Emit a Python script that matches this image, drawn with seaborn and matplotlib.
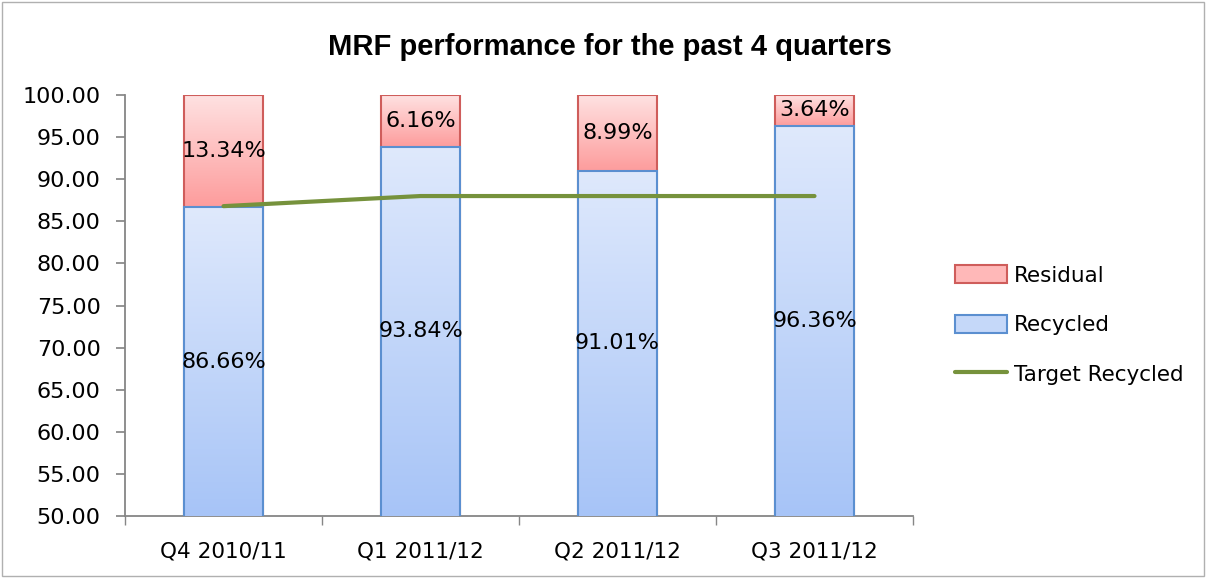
import numpy as np
import pandas as pd
import matplotlib
matplotlib.use("Agg")
import matplotlib.pyplot as plt
import seaborn as sns
from matplotlib.colors import LinearSegmentedColormap
from matplotlib.patches import Patch, Rectangle
from matplotlib.lines import Line2D

quarters = ["Q4 2010/11", "Q1 2011/12", "Q2 2011/12", "Q3 2011/12"]
recycled = [86.66, 93.84, 91.01, 96.36]
residual = [13.34, 6.16, 8.99, 3.64]
target = [86.8, 88.0, 88.0, 88.0]
yticks = [50, 55, 60, 65, 70, 75, 80, 85, 90, 95, 100]

df = pd.DataFrame({"quarter": quarters, "recycled": recycled,
                   "residual": residual, "target": target})
df["total"] = df["recycled"] + df["residual"]

sns.set_theme(style="white")
plt.rcParams["font.family"] = ["DejaVu Sans"]
plt.rcParams["text.color"] = "black"

fig = plt.figure(figsize=(12.06, 5.78), dpi=100)
ax = fig.add_axes([125/1206, 1-516/578, (913-125)/1206, (516-95)/578])

YMIN, YMAX = 50, 100
red_edge = "#cf5d5b"
blue_edge = "#5b8fd0"

sns.barplot(data=df, x="quarter", y="total", color="#ffb0b0", width=0.4,
            edgecolor=red_edge, linewidth=1.5, ax=ax, zorder=2, saturation=1)
n = len(quarters)
sns.barplot(data=df, x="quarter", y="recycled", color="#c5d8f9", width=0.4,
            edgecolor=blue_edge, linewidth=1.5, ax=ax, zorder=3, saturation=1)

ax.set_ylim(YMIN, YMAX)
ax.set_xlim(-0.5, n - 0.5)

red_cmap = LinearSegmentedColormap.from_list("r", ["#ffe2e2", "#fd9c9c"])
blue_cmap = LinearSegmentedColormap.from_list("b", ["#dfe9fc", "#a7c4f7"])
grad = np.linspace(0, 1, 256).reshape(-1, 1)
patches = list(ax.patches)
for i, p in enumerate(patches):
    x0, w = p.get_x(), p.get_width()
    top = p.get_y() + p.get_height()
    if i < n:
        cmap, bottom = red_cmap, recycled[i]
    else:
        cmap, bottom = blue_cmap, YMIN
    p.set_facecolor("none")
    im = ax.imshow(grad, cmap=cmap, aspect="auto",
                   extent=[x0, x0 + w, bottom, top], origin="upper",
                   zorder=p.get_zorder() - 0.1 + (0.05 if i >= n else 0))
    im.set_clip_path(p)
    if i >= n:
        p.set_zorder(3.5)

ax.set_ylim(YMIN, YMAX)
ax.set_xlim(-0.5, n - 0.5)

# target line
ax.plot(range(n), target, color="#76923c", linewidth=3, zorder=5)

# labels
for i in range(n):
    ax.text(i, recycled[i] + residual[i] / 2, f"{residual[i]:.2f}%",
            ha="center", va="center", fontsize=16, color="black", zorder=6)
    ax.text(i, (YMIN + recycled[i]) / 2, f"{recycled[i]:.2f}%",
            ha="center", va="center", fontsize=16, color="black", zorder=6)

ax.set_yticks(yticks)
ax.set_yticklabels([f"{v:.2f}" for v in yticks], fontsize=16, color="black")
ax.set_xticks(range(n))
ax.set_xticklabels(quarters, fontsize=15.5, color="black")
ax.set_xticks(np.arange(-0.5, n), minor=True)
ax.tick_params(axis="x", which="major", length=0, pad=18)
ax.tick_params(axis="x", which="minor", length=6.5, color="#868686", direction="out", bottom=True)
ax.tick_params(axis="y", length=6.5, color="#868686", direction="out", left=True, pad=11)
ax.set_xlabel("")
ax.set_ylabel("")
for s in ["top", "right"]:
    ax.spines[s].set_visible(False)
for s in ["left", "bottom"]:
    ax.spines[s].set_color("#868686")
    ax.spines[s].set_linewidth(1.3)
ax.grid(False)

fig.suptitle("MRF performance for the past 4 quarters", x=610/1206, y=1-47/578,
             va="center", fontsize=21, fontweight="bold", color="black",
             fontfamily="Liberation Sans")

handles = [Patch(facecolor="#ffb8b8", edgecolor=red_edge, linewidth=1.5, label="Residual"),
           Patch(facecolor="#c5d8f9", edgecolor=blue_edge, linewidth=1.5, label="Recycled"),
           Line2D([0], [0], color="#76923c", linewidth=3, label="Target Recycled")]
fig.legend(handles=handles, loc="center left", bbox_to_anchor=(936/1206, 1-325/578),
           frameon=False, fontsize=15.5, labelspacing=1.35, handlelength=2.4,
           handleheight=0.9, handletextpad=0.3, labelcolor="black")

fig.add_artist(Rectangle((0.002, 0.003), 0.996, 0.994, transform=fig.transFigure,
                         fill=False, edgecolor="#b0b0b0", linewidth=1))

fig.savefig("out.png", dpi=100)
